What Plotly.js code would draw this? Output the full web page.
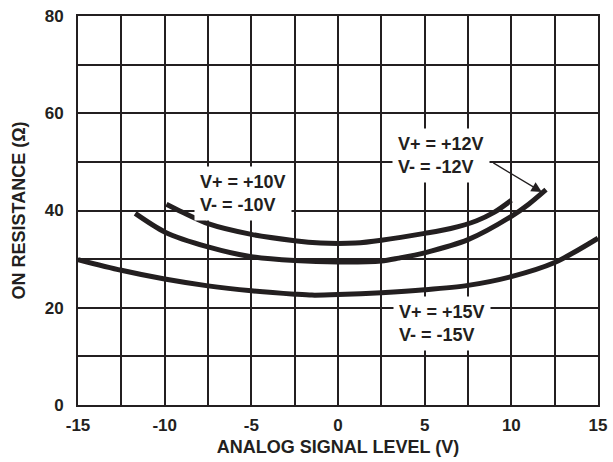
<!DOCTYPE html>
<html>
<head>
<meta charset="utf-8">
<script src="https://cdn.plot.ly/plotly-3.0.1.min.js"></script>
<style>html,body{margin:0;padding:0;background:#fff;}#chart{width:613px;height:462px;}</style>
</head>
<body>
<div id="chart"></div>
<script>
// Data
const x10 = [-9.9, -9, -7.5, -5, -2.5, -1, 0, 1, 2.5, 5, 6.5, 8, 9, 10];
const y10 = [41.3, 39.7, 37.3, 35.1, 33.8, 33.3, 33.2, 33.3, 33.9, 35.3, 36.3, 37.9, 39.6, 42.1];

const x12 = [-11.7, -10, -7.5, -5, -2.5, 0, 2.5, 3.5, 5, 7.5, 10, 11, 12];
const y12 = [39.4, 35.6, 32.5, 30.5, 29.7, 29.4, 29.6, 30.2, 31.3, 34.0, 38.8, 41.3, 44.3];

const x15 = [-15, -12.5, -10, -7.5, -5, -2.5, -1.5, 0, 2.5, 5, 7.5, 10, 12.5, 15];
const y15 = [29.9, 27.7, 25.9, 24.5, 23.5, 22.8, 22.6, 22.7, 23.1, 23.7, 24.6, 26.4, 29.3, 34.3];

const xTicks = [-15, -10, -5, 0, 5, 10, 15];
const yTicks = [0, 20, 40, 60, 80];

const label10 = "V+ = +10V<br>V- = -10V";
const label12 = "V+ = +12V<br>V- = -12V";
const label15 = "V+ = +15V<br>V- = -15V";

const ink = "#231f20";
const fam = "Liberation Sans, Arial, Helvetica, sans-serif";

function curve(x, y, name) {
  return {x: x, y: y, name: name, type: "scatter", mode: "lines",
          line: {color: ink, width: 5, shape: "spline", smoothing: 0.8},
          hoverinfo: "skip"};
}

const data = [curve(x10, y10, "±10V"), curve(x12, y12, "±12V"), curve(x15, y15, "±15V")];

const annFont = {family: fam, size: 18, color: ink, weight: "bold"};
function box(x, y, text) {
  return {x: x, y: y, xref: "x", yref: "y", text: text, showarrow: false,
          xanchor: "left", yanchor: "middle", align: "left",
          bgcolor: "#ffffff", borderpad: 5, font: annFont};
}

const layout = {
  width: 613, height: 462,
  margin: {l: 78, r: 15, t: 16, b: 57},
  paper_bgcolor: "#ffffff", plot_bgcolor: "#ffffff",
  showlegend: false,
  font: {family: fam, color: ink, weight: "bold"},
  xaxis: {
    range: [-15, 15], tickvals: xTicks, ticktext: xTicks.map(String),
    showgrid: true, gridcolor: ink, gridwidth: 2,
    minor: {dtick: 2.5, showgrid: true, gridcolor: ink, gridwidth: 2},
    zeroline: false, showline: true, linecolor: ink, linewidth: 2, mirror: true,
    ticks: "", ticklabelstandoff: 4,
    tickfont: {family: fam, size: 17, color: ink, weight: "bold"},
    title: {text: "ANALOG SIGNAL LEVEL (V)", standoff: 6,
            font: {family: fam, size: 18, color: ink, weight: "bold"}}
  },
  yaxis: {
    range: [0, 80], tickvals: yTicks, ticktext: yTicks.map(String),
    showgrid: true, gridcolor: ink, gridwidth: 2,
    minor: {dtick: 10, showgrid: true, gridcolor: ink, gridwidth: 2},
    zeroline: false, showline: true, linecolor: ink, linewidth: 2, mirror: true,
    ticks: "", ticklabelstandoff: 9,
    tickfont: {family: fam, size: 17, color: ink, weight: "bold"},
    title: {text: "ON RESISTANCE (Ω)", standoff: 14,
            font: {family: fam, size: 18, color: ink, weight: "bold"}}
  },
  annotations: [
    box(-8.31, 43.4, label10),
    box(3.12, 51.4, label12),
    box(3.18, 16.85, label15),
    {x: 11.76, y: 43.8, xref: "x", yref: "y", ax: -50, ay: -30, text: "",
     showarrow: true, arrowhead: 2, arrowsize: 1.6, arrowwidth: 1.3, arrowcolor: ink}
  ]
};

Plotly.newPlot("chart", data, layout, {displayModeBar: false, staticPlot: true});
</script>
</body>
</html>
